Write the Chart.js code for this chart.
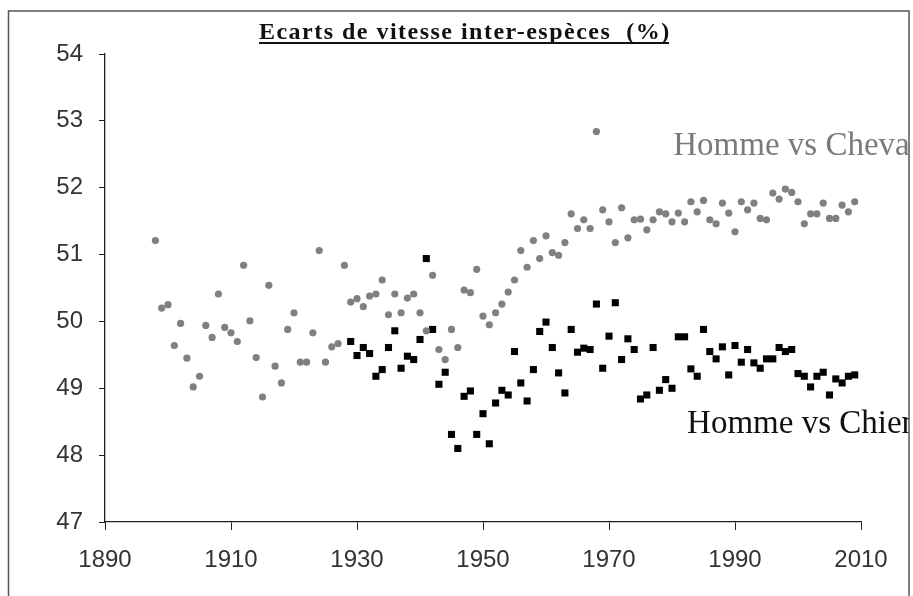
<!DOCTYPE html>
<html>
<head>
<meta charset="utf-8">
<script src="https://cdn.jsdelivr.net/npm/chart.js@4/dist/chart.umd.min.js"></script>
<style>
html,body{margin:0;padding:0;background:#fff;}
#wrap{width:913px;height:596px;position:relative;}
</style>
</head>
<body>
<div id="wrap"><canvas id="c" width="913" height="596"></canvas></div>
<script>
const chartTitle = "Ecarts de vitesse inter-espèces  (%)";
const horseLabel = "Homme vs Cheval";
const dogLabel = "Homme vs Chien";
const xTicks = [1890, 1910, 1930, 1950, 1970, 1990, 2010];
const yTicks = [47, 48, 49, 50, 51, 52, 53, 54];

const horseYears = [1898,1899,1900,1901,1902,1903,1904,1905,1906,1907,1908,1909,1910,1911,1912,1913,1914,1915,1916,1917,1918,1919,1920,1921,1922,1923,1924,1925,1926,1927,1928,1929,1930,1931,1932,1933,1934,1935,1936,1937,1938,1939,1940,1941,1942,1943,1944,1945,1946,1947,1948,1949,1950,1951,1952,1953,1954,1955,1956,1957,1958,1959,1960,1961,1962,1963,1964,1965,1966,1967,1968,1969,1970,1971,1972,1973,1974,1975,1976,1977,1978,1979,1980,1981,1982,1983,1984,1985,1986,1987,1988,1989,1990,1991,1992,1993,1994,1995,1996,1997,1998,1999,2000,2001,2002,2003,2004,2005,2006,2007,2008,2009];
const horseValues = [51.21,50.20,50.25,49.64,49.97,49.45,49.02,49.18,49.94,49.76,50.41,49.91,49.83,49.70,50.84,50.01,49.46,48.87,50.54,49.33,49.08,49.88,50.13,49.39,49.39,49.83,51.06,49.39,49.62,49.67,50.84,50.29,50.34,50.22,50.38,50.41,50.62,50.10,50.41,50.13,50.35,50.41,50.13,49.86,50.69,49.58,49.43,49.88,49.61,50.47,50.43,50.78,50.08,49.95,50.13,50.26,50.44,50.62,51.06,50.81,51.21,50.94,51.28,51.03,50.99,51.18,51.61,51.39,51.52,51.39,52.84,51.67,51.49,51.18,51.70,51.25,51.52,51.53,51.37,51.52,51.64,51.61,51.49,51.62,51.49,51.79,51.64,51.81,51.52,51.46,51.77,51.62,51.34,51.79,51.67,51.77,51.54,51.52,51.92,51.83,51.98,51.93,51.79,51.46,51.61,51.61,51.77,51.54,51.54,51.74,51.64,51.79];

const dogYears = [1929,1930,1931,1932,1933,1934,1935,1936,1937,1938,1939,1940,1941,1942,1943,1944,1945,1946,1947,1948,1949,1950,1951,1952,1953,1954,1955,1956,1957,1958,1959,1960,1961,1962,1963,1964,1965,1966,1967,1968,1969,1970,1971,1972,1973,1974,1975,1976,1977,1978,1979,1980,1981,1982,1983,1984,1985,1986,1987,1988,1989,1990,1991,1992,1993,1994,1995,1996,1997,1998,1999,2000,2001,2002,2003,2004,2005,2006,2007,2008,2009];
const dogValues = [49.70,49.49,49.61,49.52,49.18,49.28,49.61,49.86,49.30,49.48,49.43,49.73,50.94,49.88,49.06,49.24,48.31,48.10,48.88,48.96,48.31,48.62,48.17,48.78,48.97,48.90,49.55,49.08,48.81,49.28,49.85,49.99,49.61,49.23,48.93,49.88,49.54,49.60,49.58,50.26,49.30,49.78,50.28,49.43,49.74,49.58,48.84,48.90,49.61,48.97,49.13,49.00,49.77,49.77,49.29,49.18,49.88,49.55,49.44,49.62,49.20,49.64,49.39,49.58,49.38,49.30,49.44,49.44,49.61,49.55,49.58,49.22,49.18,49.02,49.18,49.24,48.90,49.14,49.08,49.18,49.20];

// label anchors in data units
const horseLabelPos = {x: 1980.2, y: 52.49};
const dogLabelPos = {x: 1982.4, y: 48.33};

const horsePoints = horseYears.map((yr, i) => ({x: yr, y: horseValues[i]}));
const dogPoints = dogYears.map((yr, i) => ({x: yr, y: dogValues[i]}));

const decor = {
  id: 'decor',
  afterDraw(chart) {
    const ctx = chart.ctx;
    const xs = chart.scales.x, ys = chart.scales.y;
    ctx.save();
    // frame
    ctx.strokeStyle = '#555';
    ctx.lineWidth = 1.5;
    ctx.strokeRect(8.5, 11, 900.5, 620);
    // clip to frame
    ctx.beginPath();
    ctx.rect(9, 12, 899.5, 600);
    ctx.clip();
    // title
    ctx.font = 'bold 24px "Liberation Serif", "Times New Roman", serif';
    ctx.fillStyle = '#111';
    ctx.textBaseline = 'alphabetic';
    ctx.textAlign = 'left';
    const w0 = ctx.measureText(chartTitle).width;
    const ls = Math.max(0, (410 - w0) / (chartTitle.length - 1));
    try { ctx.letterSpacing = ls.toFixed(2) + 'px'; } catch (e) {}
    const w = w0 + ls * (chartTitle.length - 1);
    const tx = 464 - w / 2;
    ctx.fillText(chartTitle, tx, 39);
    ctx.fillRect(tx, 42, w, 2);
    try { ctx.letterSpacing = '0px'; } catch (e) {}
    // series labels
    ctx.font = '33px "Liberation Serif", "Times New Roman", serif';
    ctx.fillStyle = '#7a7a7a';
    ctx.fillText(horseLabel, xs.getPixelForValue(horseLabelPos.x), ys.getPixelForValue(horseLabelPos.y));
    ctx.fillStyle = '#111';
    ctx.fillText(dogLabel, xs.getPixelForValue(dogLabelPos.x), ys.getPixelForValue(dogLabelPos.y));
    ctx.restore();
  }
};

new Chart(document.getElementById('c'), {
  type: 'scatter',
  data: {
    datasets: [
      {label: horseLabel, data: horsePoints, backgroundColor: '#808080', borderColor: '#808080', borderWidth: 0, pointStyle: 'circle', pointRadius: 3.6},
      {label: dogLabel, data: dogPoints, backgroundColor: '#000', borderColor: '#000', borderWidth: 0, pointStyle: 'rect', pointRadius: 5}
    ]
  },
  options: {
    responsive: false,
    animation: false,
    events: [],
    layout: {padding: {left: 0, top: 54, right: 52, bottom: 0}},
    plugins: {legend: {display: false}, tooltip: {enabled: false}, title: {display: false}},
    scales: {
      x: {
        type: 'linear', min: 1890, max: 2010,
        afterBuildTicks(s) { s.ticks = xTicks.map(v => ({value: v})); },
        afterFit(s) { s.height = 74; },
        grid: {display: true, drawOnChartArea: false, drawTicks: true, tickLength: 8, color: '#222', lineWidth: 1},
        border: {display: true, color: '#222', width: 1.3},
        ticks: {color: '#333', padding: 16, maxRotation: 0, autoSkip: false, font: {family: '"Liberation Sans", Arial, sans-serif', size: 24}, callback: v => String(v)}
      },
      y: {
        type: 'linear', min: 47, max: 54,
        afterBuildTicks(s) { s.ticks = yTicks.map(v => ({value: v})); },
        afterFit(s) { s.width = 105; },
        grid: {display: true, drawOnChartArea: false, drawTicks: true, tickLength: 6, color: '#222', lineWidth: 1},
        border: {display: true, color: '#222', width: 1.3},
        ticks: {color: '#333', padding: 16, autoSkip: false, font: {family: '"Liberation Sans", Arial, sans-serif', size: 24}, callback: v => String(v)}
      }
    }
  },
  plugins: [decor]
});
</script>
</body>
</html>
